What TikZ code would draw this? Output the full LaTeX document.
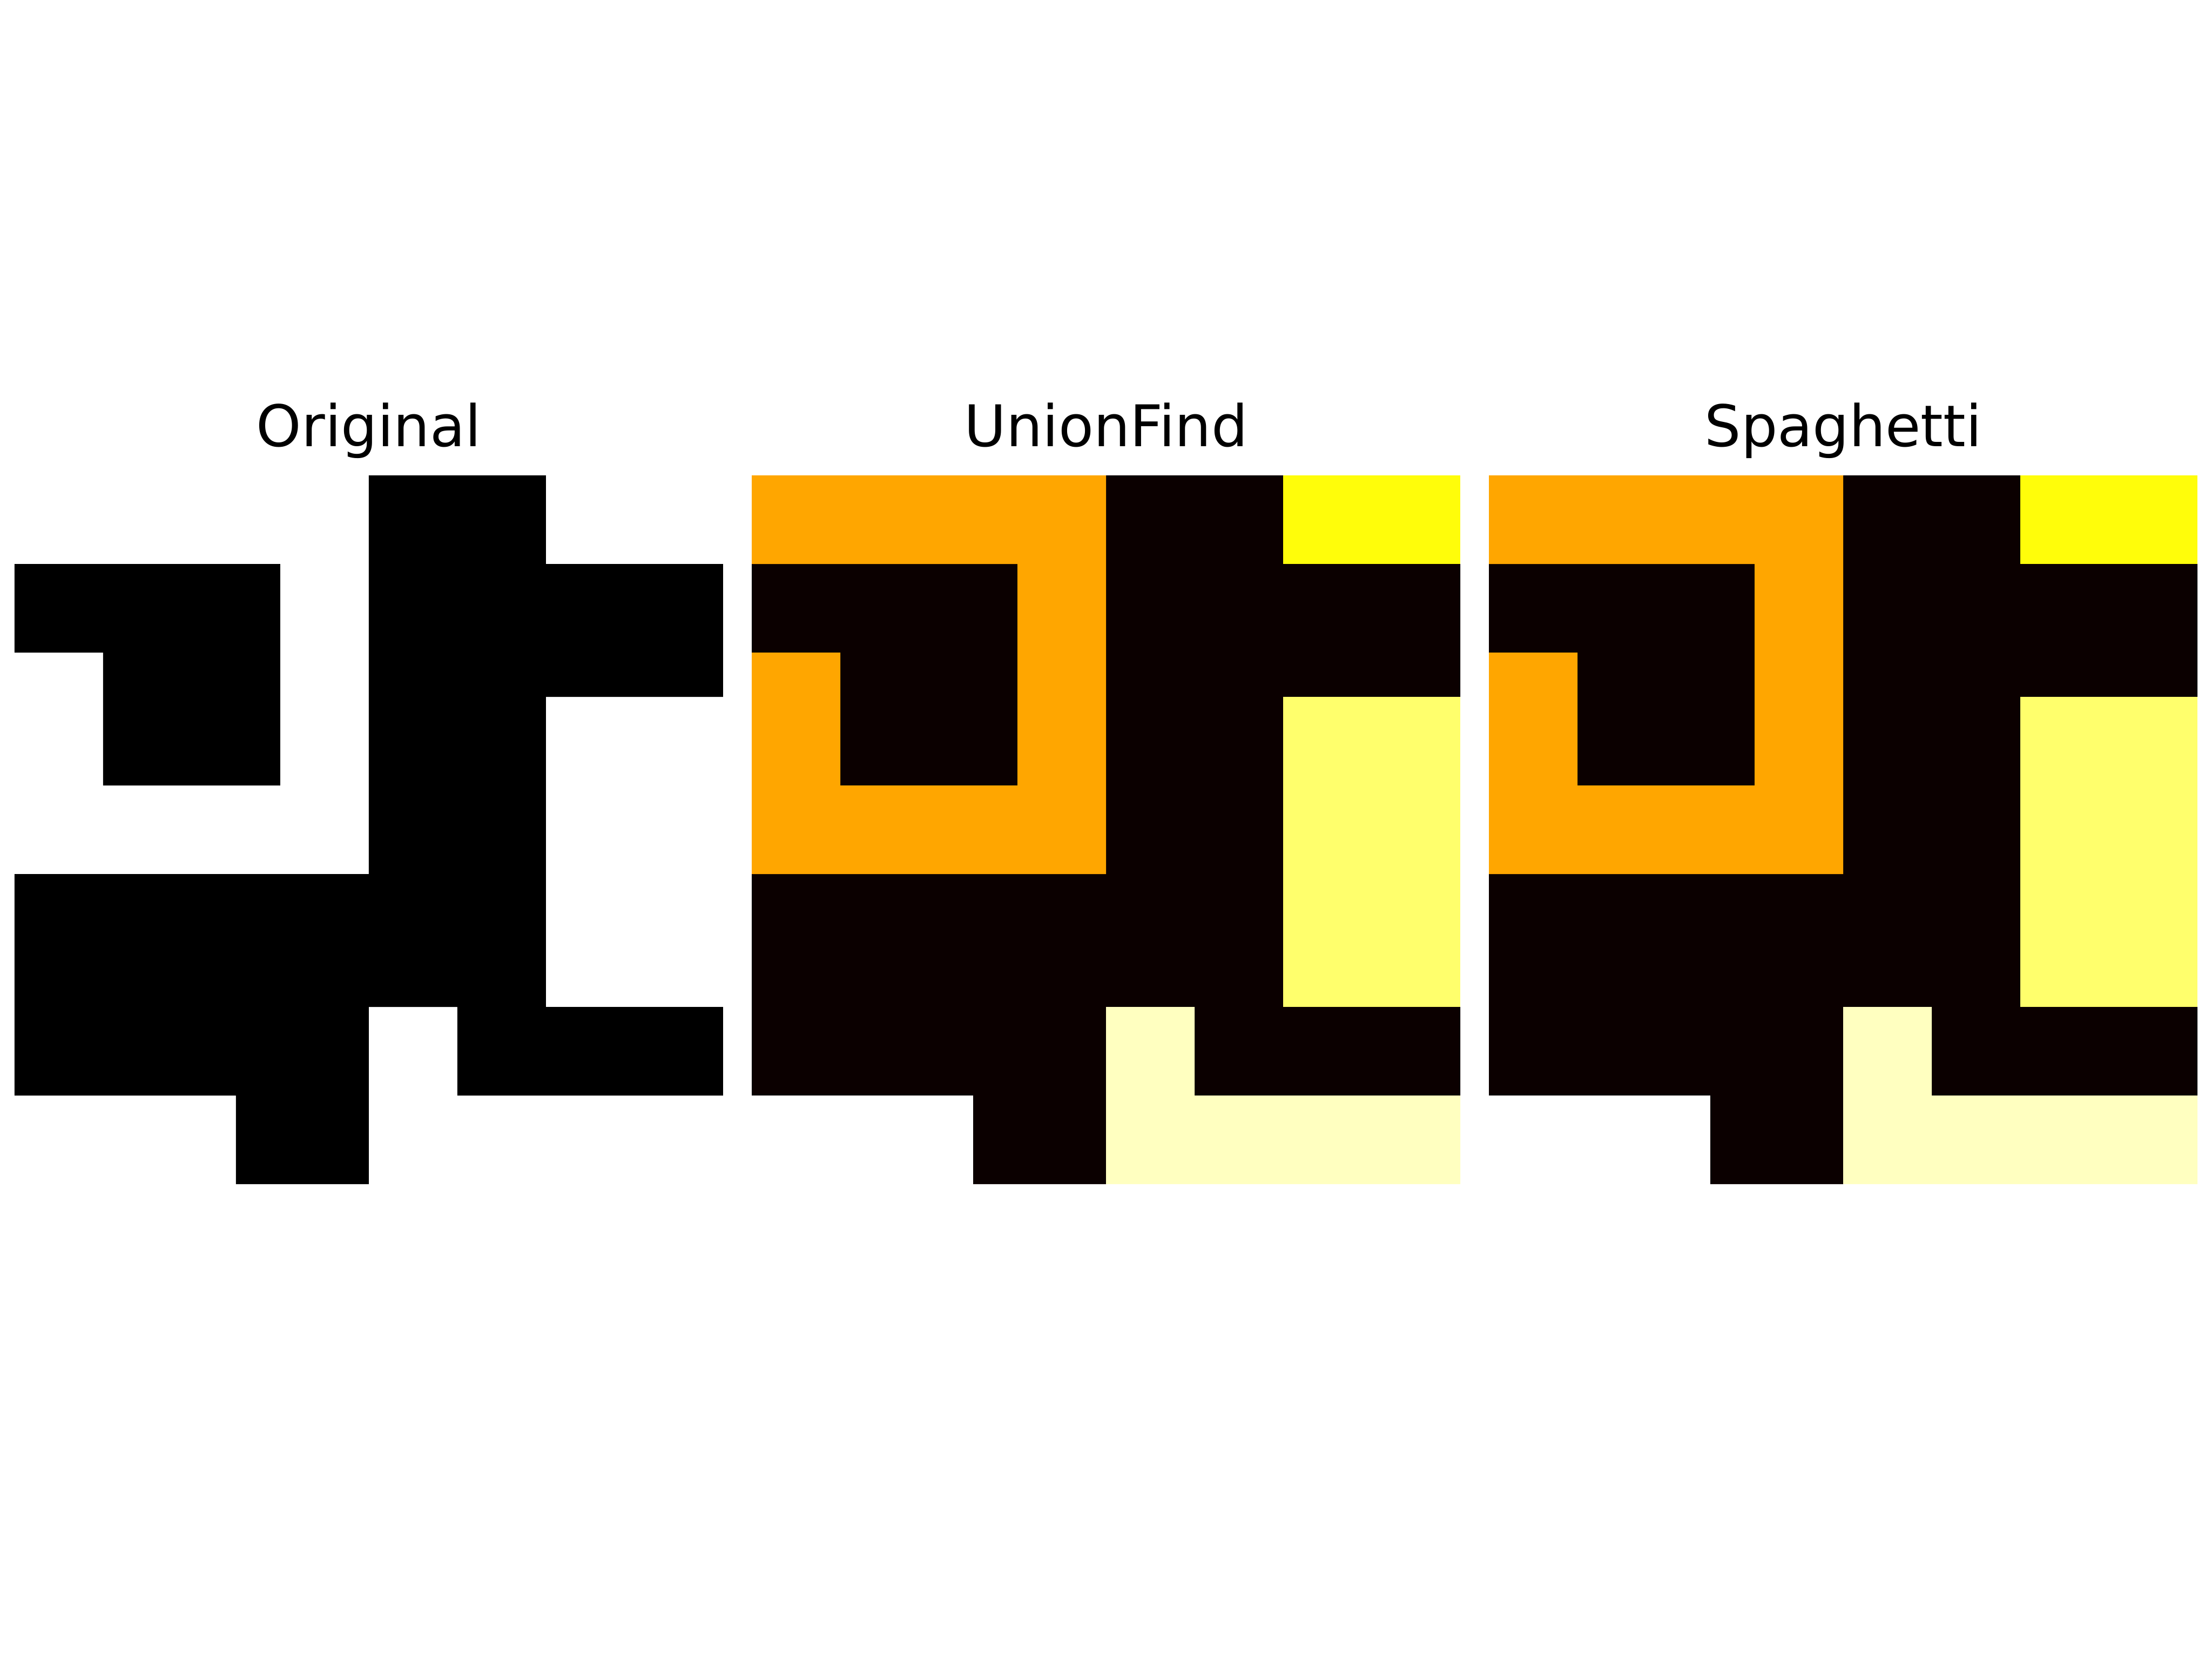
\documentclass[tikz,border=0pt]{standalone}
\usepackage{fontspec}
\setmainfont{DejaVu Sans}
\definecolor{lbback}{RGB}{11,0,0}
\definecolor{lborange}{RGB}{255,166,0}
\definecolor{lbyellow}{RGB}{255,253,10}
\definecolor{lblight}{RGB}{255,255,108}
\definecolor{lbpale}{RGB}{255,255,192}

\begin{document}
\begin{tikzpicture}[x=0.128125in, y=-0.128125in,
    paneltitle/.style={anchor=base, inner sep=0pt, font=\fontsize{12}{14.4}\selectfont}]
    \useasboundingbox (0,0) rectangle (6.4in,-4.8in);
    % binary input
    \begin{scope}[shift={(0.042in,-1.375in)}]
      \node[paneltitle] (tOriginal) at (8,-0.648) {Original};
      \fill[black] (0,2) -- (6,2) -- (6,7) -- (2,7) -- (2,4) -- (0,4) -- cycle;
      \fill[black] (8,0) -- (12,0) -- (12,2) -- (16,2) -- (16,5) -- (12,5) -- (12,12)
        -- (16,12) -- (16,14) -- (10,14) -- (10,12) -- (8,12) -- (8,16) -- (5,16)
        -- (5,14) -- (0,14) -- (0,9) -- (8,9) -- cycle;
    \end{scope}
    % labelled components, same result for both
    \foreach \xs/\lbl in {2.175/UnionFind, 4.308/Spaghetti} {
      \begin{scope}[shift={(\xs in,-1.375in)}]
        \node[paneltitle] (t\lbl) at (8,-0.648) {\lbl};
        \fill[lbback] (0,2) -- (6,2) -- (6,7) -- (2,7) -- (2,4) -- (0,4) -- cycle;
        \fill[lbback] (8,0) -- (12,0) -- (12,2) -- (16,2) -- (16,5) -- (12,5) -- (12,12)
          -- (16,12) -- (16,14) -- (10,14) -- (10,12) -- (8,12) -- (8,16) -- (5,16)
          -- (5,14) -- (0,14) -- (0,9) -- (8,9) -- cycle;
        \fill[lborange] (0,0) -- (8,0) -- (8,9) -- (0,9) -- (0,4) -- (2,4) -- (2,7)
          -- (6,7) -- (6,2) -- (0,2) -- cycle;
        \fill[lbyellow] (12,0) rectangle (16,2);
        \fill[lblight] (12,5) rectangle (16,12);
        \fill[lbpale] (8,12) -- (10,12) -- (10,14) -- (16,14) -- (16,16) -- (8,16) -- cycle;
        \fill[white] (0,14) rectangle (5,16);
      \end{scope}
    }
\end{tikzpicture}
\end{document}
